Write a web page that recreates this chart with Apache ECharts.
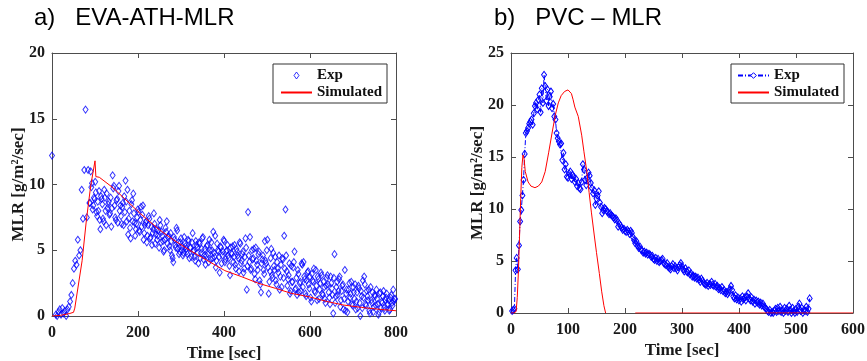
<!DOCTYPE html>
<html><head><meta charset="utf-8">
<script src="https://cdn.jsdelivr.net/npm/echarts@6/dist/echarts.min.js"></script>
<style>html,body{margin:0;padding:0;background:#fff}#c{width:867px;height:361px}</style>
</head><body><div id="c"></div>
<script>
// ---------- Panel a) EVA-ATH-MLR ----------
const evaExpFirst = [[0, 12.2]];
const evaTimeStart = 9, evaTimeStep = 3;
const evaExp = [
0.1,0.0,0.3,0.5,0.1,0.6,0.2,0.4,0.0,0.5,
0.7,1.1,1.6,2.5,3.6,4.2,3.9,5.8,4.6,5.0,
9.6,7.4,11.1,15.7,7.5,11.1,8.6,11.0,10.1,8.4,
8.9,9.4,7.6,8.0,7.3,9.1,8.5,7.2,9.0,6.9,
8.2,8.7,7.8,6.8,10.7,9.9,7.5,8.8,7.1,9.9,
8.4,7.0,8.6,9.1,10.3,7.2,6.2,8.0,5.9,8.8,
9.3,7.1,6.6,7.5,7.9,6.4,8.3,7.7,5.8,6.9,
7.2,6.1,7.6,5.9,6.8,6.3,7.8,5.5,6.6,6.1,
5.2,6.9,6.4,5.7,5.0,6.7,7.2,6.0,5.3,6.3,
4.6,4.1,5.8,5.2,6.5,5.6,4.9,5.9,5.3,4.8,
5.5,5.1,4.7,5.7,5.2,4.5,6.3,5.0,4.2,5.4,
4.8,5.6,4.4,5.1,6.0,4.6,3.9,5.3,4.7,5.8,
4.3,5.0,6.4,4.5,3.7,5.5,4.9,3.3,5.2,4.6,
5.8,4.1,4.9,5.4,4.4,3.1,4.8,5.3,4.5,3.9,
5.1,4.6,3.4,5.5,4.2,4.9,3.6,5.9,2.0,7.9,
4.1,3.5,5.0,4.4,3.2,5.2,3.9,4.7,2.7,1.8,
4.3,3.5,5.7,4.0,5.8,1.7,3.4,5.1,2.9,3.8,
4.5,2.4,3.6,4.6,3.0,2.2,4.3,6.1,8.1,3.4,
2.8,4.0,1.9,2.6,3.7,4.9,2.1,1.6,3.2,2.5,
1.9,3.9,4.1,2.8,1.5,3.3,2.4,3.0,1.1,2.7,
3.6,1.8,2.3,3.0,1.3,2.5,3.1,1.6,2.2,1.0,
2.9,2.4,1.4,3.0,2.1,0.2,4.7,1.5,2.6,1.9,
3.0,1.2,2.3,0.5,3.5,1.7,0.3,2.0,1.4,2.6,
0.8,1.8,2.4,1.1,0.6,2.1,0.0,1.5,2.7,3.0,
0.9,1.9,1.2,0.4,2.2,1.0,0.3,1.6,0.8,1.3,
0.1,1.7,0.6,1.0,1.9,0.4,1.4,0.9,1.2,0.5,
1.6,0.8,1.1,1.3
];
// interleaved samples (second pass of the same measurement)
const evaTimeStart2 = 88.5, evaTimeStep2 = 3;
const evaExp2 = [
8.6,9.8,8.1,9.0,10.2,7.9,8.7,9.5,6.6,8.9,
7.4,9.6,8.0,9.3,8.5,7.7,9.0,8.2,9.7,8.4,
7.3,8.9,9.5,8.0,7.6,8.3,6.9,7.9,8.7,9.6,
7.4,6.7,8.5,7.2,7.8,6.1,7.0,8.1,6.5,7.3,
6.8,8.4,6.3,7.1,5.6,6.9,7.4,6.0,5.4,6.6,
7.0,6.2,5.8,6.5,7.3,5.6,6.1,4.9,5.8,6.4,
5.5,6.1,5.0,5.7,4.4,6.0,5.4,6.7,5.1,4.7,
5.6,5.0,4.6,6.0,5.3,4.9,5.8,4.4,5.2,5.6,
4.9,4.5,5.7,5.2,4.0,5.5,4.8,5.9,4.3,5.1,
4.6,5.4,4.1,5.0,5.6,4.4,4.8,6.1,4.2,5.0,
4.5,5.3,4.0,4.9,5.7,4.3,5.0,4.6,3.8,5.2,
4.7,4.1,5.4,3.6,4.9,4.4,5.6,4.0,4.7,3.3,
4.5,5.2,3.8,4.6,6.0,3.6,4.3,5.1,2.8,4.2,
3.5,4.9,2.4,4.0,4.6,3.2,4.2,5.0,3.7,2.6,
4.4,3.1,4.8,3.5,2.7,4.1,3.3,2.0,3.9,4.4,
2.9,3.6,4.6,2.3,3.1,1.7,3.8,2.6,4.1,2.0,
2.9,3.5,1.8,2.6,4.0,2.2,3.0,1.7,2.7,3.4,
2.1,1.4,3.2,2.6,1.9,3.5,1.2,2.8,2.0,3.3,
1.7,2.6,1.3,2.3,3.1,1.8,0.9,2.5,1.6,2.9,
1.0,2.2,1.6,2.8,0.7,1.9,2.4,1.3,0.4,2.0,
1.1,2.5,1.7,0.9,2.2,1.3,0.5,1.8,2.3,1.0,
1.9,0.6,1.4,2.4,0.8,1.5,2.0,0.2,1.2,1.8,
0.7,1.5,2.0,0.9,0.3,1.8,1.1,1.5,0.6,1.2,
1.7,0.9,0.4,1.4,1.0,2.0,1.3
];
const evaSimTime = [0,20,40,50,52,53,70,80,90,100,102,110,140,168,205,223,250,282,320,359,402,440,479,520,556,599,640,677,720,754,800];
const evaSimMLR  = [0,0.05,0.18,0.28,0.3,0.6,4.2,7.3,9.9,11.8,10.6,10.55,9.8,8.95,7.8,7.3,6.55,5.8,5.0,4.26,3.45,3.0,2.5,2.1,1.73,1.45,1.1,0.84,0.65,0.53,0.4];

// ---------- Panel b) PVC - MLR ----------
const pvcTimeStart = 2, pvcTimeStep = 2;
const pvcExp = [
0.2,0.3,0.4,4.1,5.3,4.2,6.5,8.8,9.9,11.3,
12.8,15.3,17.3,17.5,17.8,18.2,18.4,18.6,18.1,19.2,
19.9,20.2,19.6,20.5,21.0,19.3,21.6,20.2,22.9,21.8,
20.4,21.5,19.9,20.8,21.3,19.7,20.1,18.9,18.6,17.3,
16.8,16.5,16.2,16.3,14.7,15.4,13.8,14.3,13.1,13.0,
13.4,13.6,12.9,13.3,13.1,12.6,12.9,12.2,12.5,12.0,
11.9,12.6,14.3,13.8,12.8,12.3,13.0,13.5,13.2,12.5,
12.0,11.5,11.8,10.4,11.0,11.3,11.7,10.6,10.2,9.6,
9.9,10.1,10.0,9.8,9.7,9.5,9.6,9.4,9.3,9.2,
9.0,9.1,8.9,8.3,8.6,8.4,8.2,8.0,8.1,7.9,
7.8,8.0,7.85,7.6,7.9,7.7,7.3,7.0,6.7,6.9,
6.5,6.25,6.4,6.1,6.0,5.8,5.9,5.7,5.8,5.6,
5.7,5.6,5.4,5.5,5.2,5.1,5.3,5.0,5.2,4.9,
5.0,5.1,5.2,4.8,4.7,4.6,4.8,4.4,4.3,4.2,
4.5,4.7,4.3,4.5,4.3,4.1,4.4,4.6,4.8,4.5,
4.2,4.0,4.3,4.0,3.9,4.1,3.7,3.8,3.5,3.6,
3.4,3.5,3.3,3.4,3.2,3.0,3.3,3.1,2.9,2.8,
2.7,2.9,2.6,2.8,2.7,3.0,2.7,2.6,2.8,2.5,
2.6,2.3,2.4,2.2,2.5,2.1,2.2,1.9,2.0,1.8,
2.0,2.3,2.6,2.2,1.6,1.4,1.7,1.3,1.5,1.2,
1.4,1.1,1.6,1.3,1.5,1.2,1.6,1.9,1.4,1.2,
1.5,1.1,1.3,0.9,1.2,1.0,1.1,0.8,1.0,0.7,
0.9,0.6,0.5,0.4,0.2,0.1,0.3,0.0,0.1,0.0,
0.2,0.4,0.1,0.5,0.2,0.6,0.1,0.3,0.0,0.5,
0.2,0.4,0.1,0.7,0.3,0.0,0.5,0.2,0.0,0.4,
0.1,0.6,0.9,0.2,0.5,0.0,0.3,0.2,0.6,0.1,
0.4,1.4
];
const pvcSimTime = [0,5,9,11,13,15,17,19,21,23,25,30,35,42,48,54,60,66,72,78,83,88,94,100,106,109,112,118,124,128,133,137,141,146,150,155,159,163,166,190,218,600];
const pvcSimMLR  = [0,0,0.15,1.5,4.0,7.4,11.0,14.0,15.2,14.8,13.6,12.6,12.2,12.05,12.2,12.6,13.6,15.4,17.3,19.1,20.2,20.9,21.3,21.45,21.1,20.5,19.8,18.9,17.1,15.5,13.6,11.6,9.7,7.5,5.8,3.8,2.1,0.7,0,null,0,0];

const evaXTicks = {min:0, max:800, interval:200};
const evaYTicks = {min:0, max:20, interval:5};
const pvcXTicks = {min:0, max:600, interval:100};
const pvcYTicks = {min:0, max:25, interval:5};

// ---------- build ----------
const evaExpData = evaExpFirst
  .concat(evaExp.map((v, i) => [evaTimeStart + i * evaTimeStep, v]))
  .concat(evaExp2.map((v, i) => [evaTimeStart2 + i * evaTimeStep2, v]));
const evaSimData = evaSimTime.map((t, i) => [t, evaSimMLR[i]]);
const pvcExpData = pvcExp.map((v, i) => [pvcTimeStart + i * pvcTimeStep, v]);
const pvcSimData = pvcSimTime.map((t, i) => [t, pvcSimMLR[i]]);

const AX = '#4d4d4d';
const SERIF = 'Liberation Serif';
const tickFont = {fontFamily: SERIF, fontWeight: 'bold', fontSize: 16, color: '#1a1a1a'};
const nameFont = {fontFamily: SERIF, fontWeight: 'bold', fontSize: 17, color: '#1a1a1a'};

function axis(grid, pos, ticks, name, gap) {
  const main = (pos === 'bottom' || pos === 'left');
  const a = {
    type: 'value', gridIndex: grid, position: pos,
    min: ticks.min, max: ticks.max, interval: ticks.interval,
    axisLine: {show: true, onZero: false, lineStyle: {color: AX, width: 1}},
    axisTick: {show: true, inside: true, length: 5, lineStyle: {color: AX, width: 1}},
    axisLabel: Object.assign({show: main, margin: pos === 'bottom' ? 9 : 7}, tickFont),
    splitLine: {show: false}
  };
  if (main && name) {
    a.name = name; a.nameLocation = 'middle'; a.nameGap = gap;
    a.nameMoveOverlap = false;
    a.nameTextStyle = nameFont;
  }
  return a;
}

const diamondStyle = {color: 'transparent', borderColor: '#0000ff', borderWidth: 1};
const legendDiamond = {color: '#ffffff', borderColor: '#0000ff', borderWidth: 1};
const noSymbol = {color: 'transparent', borderColor: 'transparent', borderWidth: 0, opacity: 0};
const legendCommon = {
  orient: 'vertical', itemWidth: 31, itemHeight: 7, itemGap: 2,
  borderColor: '#333', borderWidth: 1, borderRadius: 0, backgroundColor: '#fff',
  selectedMode: false,
  formatter: n => n.split(' ')[0],
  textStyle: {fontFamily: SERIF, fontWeight: 'bold', fontSize: 15, color: '#111', lineHeight: 15}
};
const titleFont = {fontFamily: 'Liberation Sans', fontWeight: 'normal', fontSize: 24, color: '#000'};

const option = {
  animation: false,
  backgroundColor: '#fff',
  title: [
    {text: 'a)   EVA-ATH-MLR', left: 34, top: 6, padding: 0, textStyle: titleFont},
    {text: 'b)   PVC \u2013 MLR', left: 494, top: 6, padding: 0, textStyle: titleFont}
  ],
  grid: [
    {left: 52, top: 53, width: 344, height: 263, outerBoundsMode: 'none', containLabel: false},
    {left: 511, top: 53, width: 342, height: 260, outerBoundsMode: 'none', containLabel: false}
  ],
  xAxis: [
    axis(0, 'bottom', evaXTicks, 'Time [sec]', 29),
    axis(0, 'top', evaXTicks),
    axis(1, 'bottom', pvcXTicks, 'Time [sec]', 29),
    axis(1, 'top', pvcXTicks)
  ],
  yAxis: [
    axis(0, 'left', evaYTicks, 'MLR [g/m\u00b2/sec]', 25),
    axis(0, 'right', evaYTicks),
    axis(1, 'left', pvcYTicks, 'MLR [g/m\u00b2/sec]', 25),
    axis(1, 'right', pvcYTicks)
  ],
  legend: [
    Object.assign({}, legendCommon, {left: 273, top: 64, padding: [4, 5, 3, 7],
      data: [{name: 'Exp a', icon: 'path://M5,0L10,7L5,14L0,7Z', itemStyle: legendDiamond},
             {name: 'Simulated a', itemStyle: noSymbol}]}),
    Object.assign({}, legendCommon, {left: 731, top: 64, padding: [4, 5, 3, 6],
      data: [{name: 'Exp b', itemStyle: legendDiamond},
             {name: 'Simulated b', itemStyle: noSymbol}]})
  ],
  series: [
    {name: 'Exp a', type: 'scatter', xAxisIndex: 0, yAxisIndex: 0, data: evaExpData,
     symbol: 'diamond', symbolSize: [5, 7], itemStyle: diamondStyle, z: 2},
    {name: 'Simulated a', type: 'line', xAxisIndex: 0, yAxisIndex: 0, data: evaSimData,
     symbol: 'none', lineStyle: {color: '#ff0000', width: 1}, itemStyle: {color: '#ff0000'}, z: 3},
    {name: 'Exp b', type: 'line', xAxisIndex: 2, yAxisIndex: 2, data: pvcExpData,
     symbol: 'diamond', symbolSize: [5, 7], showAllSymbol: true,
     lineStyle: {color: '#0000ff', width: 1, type: [5, 2, 1, 2]}, itemStyle: diamondStyle, z: 2},
    {name: 'Simulated b', type: 'line', xAxisIndex: 2, yAxisIndex: 2, data: pvcSimData,
     symbol: 'none', connectNulls: false, lineStyle: {color: '#ff0000', width: 1}, itemStyle: {color: '#ff0000'}, z: 3}
  ]
};
const chart = echarts.init(document.getElementById('c'), null, {renderer: 'canvas'});
chart.setOption(option);
</script></body></html>
